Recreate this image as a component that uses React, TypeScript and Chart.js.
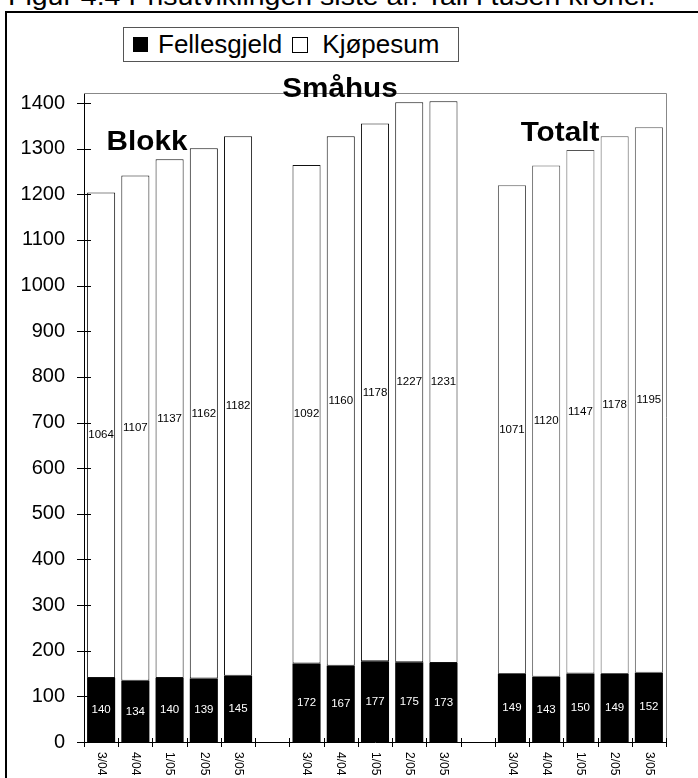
import React, { useEffect, useRef } from "react";
import { Chart, registerables } from "chart.js";

Chart.register(...registerables);

const periods = ["3/04", "4/04", "1/05", "2/05", "3/05"];
const groups = ["Blokk", "Småhus", "Totalt"];
const fellesBlokk = [140, 134, 140, 139, 145];
const fellesSmahus = [172, 167, 177, 175, 173];
const fellesTotalt = [149, 143, 150, 149, 152];
const kjopBlokk = [1064, 1107, 1137, 1162, 1182];
const kjopSmahus = [1092, 1160, 1178, 1227, 1231];
const kjopTotalt = [1071, 1120, 1147, 1178, 1195];
const yTicks = [0, 100, 200, 300, 400, 500, 600, 700, 800, 900, 1000, 1100, 1200, 1300, 1400];

const FONT = "'Liberation Sans', Arial, sans-serif";

function spread<T>(arrs: T[][], gap: T): T[] {
  const out: T[] = [];
  arrs.forEach((a, i) => {
    if (i > 0) out.push(gap);
    out.push(...a);
  });
  return out;
}

const labels = spread(groups.map(() => periods), "");
const fellesAll = spread<number | null>([fellesBlokk, fellesSmahus, fellesTotalt], null);
const kjopAll = spread<number | null>([kjopBlokk, kjopSmahus, kjopTotalt], null);
const borderColors = spread<string>(
  [periods.map(() => "#111"), periods.map(() => "#111"), periods.map(() => "#555")],
  "#111"
);

const decor = {
  id: "decor",
  afterDraw(chart: any) {
    const ctx = chart.ctx;
    const { left, right, top, bottom } = chart.chartArea;
    const xs = chart.scales.x;
    const ys = chart.scales.y;
    ctx.save();
    ctx.strokeStyle = "#888";
    ctx.lineWidth = 1;
    ctx.beginPath();
    ctx.moveTo(left, Math.round(top) + 0.5);
    ctx.lineTo(Math.round(right) + 0.5, Math.round(top) + 0.5);
    ctx.lineTo(Math.round(right) + 0.5, bottom);
    ctx.stroke();
    ctx.strokeStyle = "#000";
    ctx.beginPath();
    yTicks.forEach((v) => {
      const py = Math.round(ys.getPixelForValue(v)) + 0.5;
      ctx.moveTo(left - 7, py);
      ctx.lineTo(left + 7, py);
    });
    const slot = xs.getPixelForValue(1) - xs.getPixelForValue(0);
    for (let i = 0; i <= labels.length; i++) {
      const px = Math.round(xs.getPixelForValue(0) - slot / 2 + i * slot) + 0.5;
      ctx.moveTo(px, bottom - 4);
      ctx.lineTo(px, bottom + 5);
    }
    ctx.stroke();
    ctx.fillStyle = "#000";
    ctx.font = `12px ${FONT}`;
    ctx.textAlign = "left";
    ctx.textBaseline = "middle";
    labels.forEach((l, i) => {
      if (!l) return;
      const px = xs.getPixelForValue(i);
      ctx.save();
      ctx.translate(px, bottom + 10);
      ctx.rotate(Math.PI / 2);
      ctx.fillText(l, 0, 0);
      ctx.restore();
    });
    ctx.font = `11.5px ${FONT}`;
    ctx.textAlign = "center";
    chart.data.datasets.forEach((ds: any, di: number) => {
      const meta = chart.getDatasetMeta(di);
      ctx.fillStyle = di === 0 ? "#fff" : "#000";
      meta.data.forEach((el: any, i: number) => {
        const v = ds.data[i];
        if (v == null) return;
        ctx.fillText(String(v), el.x, (el.y + el.base) / 2);
      });
    });
    ctx.restore();
  },
};

export default function App() {
  const ref = useRef<HTMLCanvasElement | null>(null);
  useEffect(() => {
    if (!ref.current) return;
    const chart = new Chart(ref.current, {
      type: "bar",
      data: {
        labels,
        datasets: [
          {
            label: "Fellesgjeld",
            data: fellesAll,
            backgroundColor: "#000",
            borderWidth: 0,
          },
          {
            label: "Kjøpesum",
            data: kjopAll,
            backgroundColor: "#fff",
            borderColor: borderColors,
            borderWidth: 1,
            borderSkipped: false,
          },
        ],
      },
      options: {
        animation: false,
        responsive: false,
        maintainAspectRatio: false,
        layout: { padding: { left: 0, top: 93, right: 32, bottom: 36 } },
        plugins: { legend: { display: false }, tooltip: { enabled: false } },
        datasets: { bar: { categoryPercentage: 1, barPercentage: 0.82 } },
        scales: {
          x: {
            stacked: true,
            grid: { display: false, drawTicks: false },
            border: { display: true, color: "#000", width: 1 },
            ticks: { display: false },
            afterFit: (s: any) => {
              s.height = 0;
            },
          },
          y: {
            stacked: true,
            min: 0,
            max: 1422,
            grid: { display: false, drawTicks: false },
            border: { display: true, color: "#000", width: 1 },
            ticks: {
              color: "#000",
              padding: 19,
              font: { family: FONT, size: 20 },
              callback: (v: any) => String(v),
            },
            afterFit: (s: any) => {
              s.width = 84;
            },
            afterBuildTicks: (s: any) => {
              s.ticks = yTicks.map((v) => ({ value: v }));
            },
          },
        },
      } as any,
      plugins: [decor],
    });
    return () => chart.destroy();
  }, []);

  const groupPos = [
    { x: 147, y: 141 },
    { x: 340, y: 88 },
    { x: 560, y: 132 },
  ];

  return (
    <div
      style={{
        position: "absolute",
        left: 0,
        top: 0,
        width: 698,
        height: 778,
        overflow: "hidden",
        background: "#fff",
        fontFamily: FONT,
      }}
    >
      <div
        style={{
          position: "absolute",
          left: 8,
          top: -16,
          fontSize: 25,
          whiteSpace: "nowrap",
          lineHeight: "25px",
          color: "#000",
          transform: "scaleX(1.14)",
          transformOrigin: "left top",
        }}
      >
        Figur 4.4 Prisutviklingen siste år. Tall i tusen kroner.
      </div>
      <div
        style={{
          position: "absolute",
          left: 5,
          top: 11,
          width: 800,
          height: 900,
          border: "2px solid #000",
          background: "#fff",
        }}
      />
      <canvas
        ref={ref}
        width={698}
        height={778}
        style={{ position: "absolute", left: 0, top: 0, width: 698, height: 778 }}
      />
      <div
        style={{
          position: "absolute",
          left: 123,
          top: 27,
          width: 334,
          height: 33,
          border: "1px solid #555",
          background: "#fff",
          display: "flex",
          alignItems: "center",
          fontSize: 26,
          color: "#000",
          whiteSpace: "nowrap",
        }}
      >
        <span style={{ display: "inline-block", width: 15, height: 15, background: "#000", marginLeft: 9 }} />
        <span style={{ marginLeft: 10 }}>Fellesgjeld</span>
        <span
          style={{
            display: "inline-block",
            width: 14,
            height: 14,
            border: "1px solid #000",
            background: "#fff",
            marginLeft: 10,
          }}
        />
        <span style={{ marginLeft: 14 }}>Kjøpesum</span>
      </div>
      {groups.map((g, i) => (
        <div
          key={g}
          style={{
            position: "absolute",
            left: groupPos[i].x,
            top: groupPos[i].y,
            transform: "translate(-50%, -50%) scaleX(1.1)",
            fontSize: 27,
            fontWeight: "bold",
            lineHeight: 1,
            whiteSpace: "nowrap",
            color: "#000",
          }}
        >
          {g}
        </div>
      ))}
    </div>
  );
}
